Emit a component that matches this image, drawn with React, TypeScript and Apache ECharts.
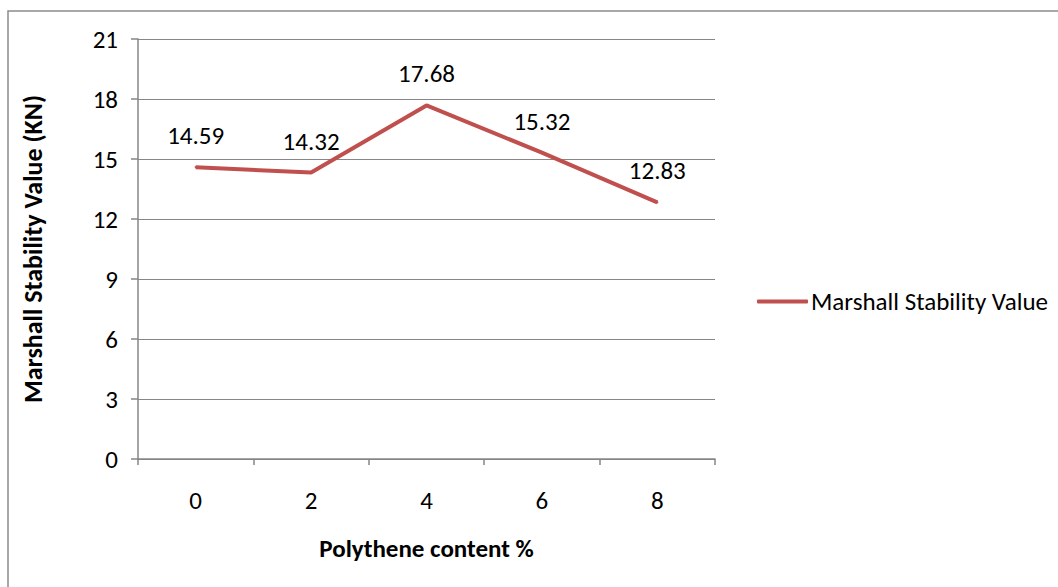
import React, { useEffect, useRef } from "react";
import * as echarts from "echarts";

const categories = ["0", "2", "4", "6", "8"];
const stabilityValues = [14.59, 14.32, 17.68, 15.32, 12.83];
const seriesName = "Marshall Stability Value";
const yAxisTitle = "Marshall Stability Value (KN)";
const xAxisTitle = "Polythene content %";

const FONT = "Carlito, Calibri, Lato, 'Open Sans', sans-serif";

export default function App() {
  const ref = useRef<HTMLDivElement>(null);
  useEffect(() => {
    if (!ref.current) return;
    const chart = echarts.init(ref.current, undefined, { renderer: "svg" });
    chart.setOption({
      animation: false,
      backgroundColor: "#ffffff",
      textStyle: { fontFamily: FONT },
      graphic: [
        {
          type: "rect",
          shape: { x: 8, y: 11, width: 1200, height: 800 },
          style: { fill: "none", stroke: "#8c8c8c", lineWidth: 1.5 },
          silent: true,
          z: -10,
        },
      ],
      grid: { left: 138, top: 39, right: 343, bottom: 128 },
      legend: {
        data: [seriesName],
        left: 752,
        top: 284,
        icon: "roundRect",
        itemWidth: 51,
        itemHeight: 4,
        itemStyle: { color: "#C0504D" },
        textStyle: { fontFamily: FONT, fontSize: 25, color: "#000", padding: [0, 0, 0, -2] },
      },
      xAxis: {
        type: "category",
        data: categories,
        boundaryGap: true,
        name: xAxisTitle,
        nameLocation: "middle",
        nameGap: 77,
        nameTextStyle: { fontFamily: FONT, fontSize: 25, fontWeight: "bold", color: "#000" },
        axisLine: { lineStyle: { color: "#868686", width: 1.5 } },
        axisTick: { show: true, length: 6, lineStyle: { color: "#868686", width: 1.5 } },
        axisLabel: { margin: 29, fontSize: 25, color: "#000", fontFamily: FONT },
        splitLine: { show: false },
      },
      yAxis: {
        type: "value",
        min: 0,
        max: 21,
        interval: 3,
        name: yAxisTitle,
        nameLocation: "middle",
        nameGap: 92,
        nameRotate: 90,
        nameTextStyle: { fontFamily: FONT, fontSize: 26, fontWeight: "bold", color: "#000" },
        axisLine: { show: true, lineStyle: { color: "#868686", width: 1.5 } },
        axisTick: { show: true, length: 7, lineStyle: { color: "#868686", width: 1.5 } },
        axisLabel: { margin: 20, fontSize: 25, color: "#000", fontFamily: FONT },
        splitLine: { show: true, lineStyle: { color: "#868686", width: 1.2 } },
      },
      series: [
        {
          name: seriesName,
          type: "line",
          data: stabilityValues,
          symbol: "circle",
          symbolSize: 2,
          showSymbol: true,
          lineStyle: { color: "#C0504D", width: 4 },
          itemStyle: { color: "#C0504D" },
          label: {
            show: true,
            position: "top",
            distance: 18,
            fontSize: 25,
            color: "#000",
            fontFamily: FONT,
            formatter: (p: any) => Number(p.value).toFixed(2),
          },
        },
      ],
    });
    return () => chart.dispose();
  }, []);
  return <div ref={ref} style={{ width: 1058, height: 587, position: "absolute", left: 0, top: 0 }} />;
}
